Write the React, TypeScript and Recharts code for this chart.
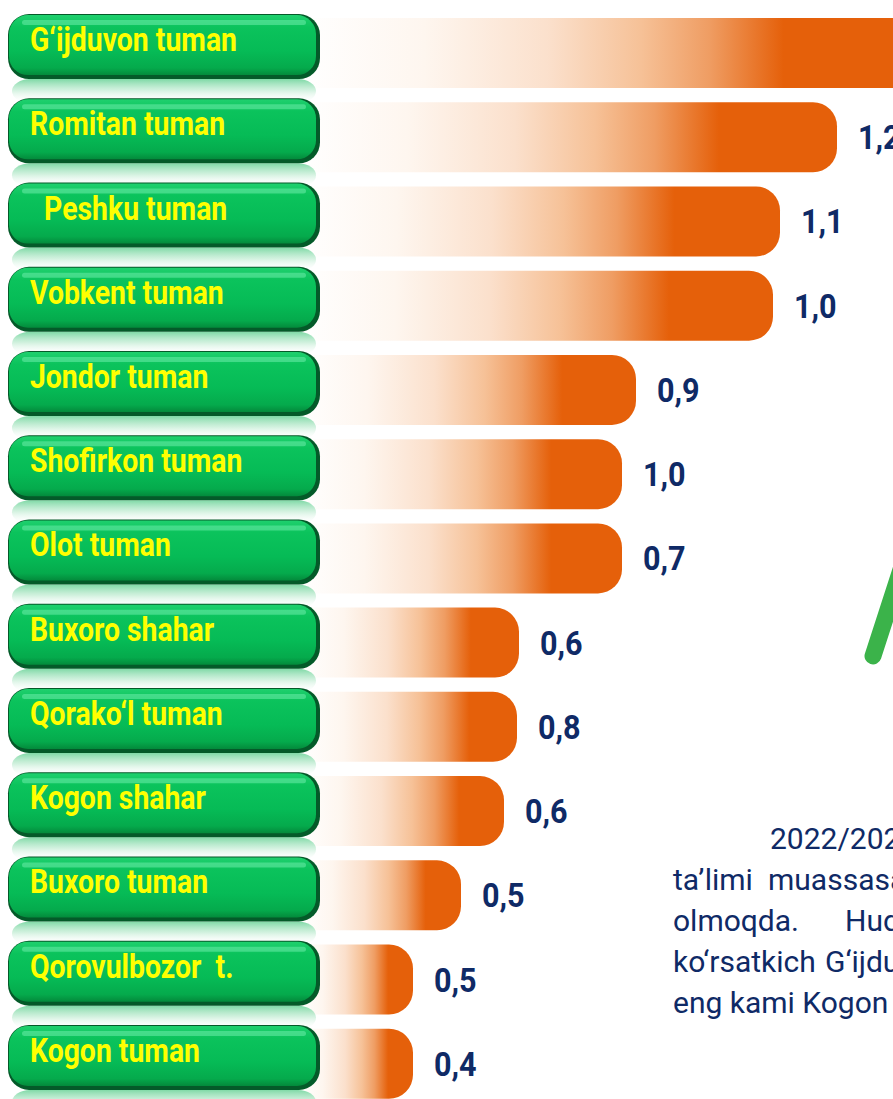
import React from "react";
import { BarChart, Bar, XAxis, YAxis, LabelList } from "recharts";

// district names, top to bottom
const districts = [
  "G‘ijduvon tuman",
  "Romitan tuman",
  "  Peshku tuman",
  "Vobkent tuman",
  "Jondor tuman",
  "Shofirkon tuman",
  "Olot tuman",
  "Buxoro shahar",
  "Qorako‘l tuman",
  "Kogon shahar",
  "Buxoro tuman",
  "Qorovulbozor  t.",
  "Kogon tuman",
];

// printed value labels
const shareLabels = ["1,3", "1,2", "1,1", "1,0", "0,9", "1,0", "0,7", "0,6", "0,8", "0,6", "0,5", "0,5", "0,4"];

// drawn bar lengths (the infographic's bars are not to the printed values)
const barLengths = [620, 537, 480, 473, 336, 322, 322, 219, 217, 204, 161, 113, 113];

const noteLines = [
  ["2022/2023"],
  ["ta’limi", "muassasa"],
  ["olmoqda.", "Hudud"],
  ["ko‘rsatkich", "G‘ijduvon"],
  ["eng kami Kogon"],
];

const data = districts.map((name, i) => ({ name, length: barLengths[i], label: shareLabels[i] }));

const NAVY = "#0f2a66";
const ORANGE = "#e5600a";

function PillTick(props: any) {
  const { y, payload } = props;
  const top = y - 7 - 32;
  return (
    <g>
      <rect x={12} y={top + 65} width={304} height={24} rx={18} fill="url(#reflectGrad)" />
      <rect x={8} y={top} width={312} height={65} rx={21} fill="#045a29" />
      <rect x={9} y={top + 1} width={307} height={60} rx={19} fill="url(#pillGrad)" />
      <rect x={22} y={top + 6} width={284} height={5} rx={2.5} fill="#74f0b0" opacity={0.5} />
      <text
        x={30}
        y={y - 2}
        fill="#ffff00"
        fontFamily="Roboto, sans-serif"
        fontWeight={700}
        fontSize={33}
        style={{ whiteSpace: "pre" }}
        transform="translate(30 0) scale(0.86 1) translate(-30 0)"
      >
        {payload.value}
      </text>
    </g>
  );
}

function ValueLabel(props: any) {
  const { x, y, width, height, value } = props;
  const tx = x + width + 21;
  const ty = y + height / 2 + 12;
  return (
    <text
      x={tx}
      y={ty}
      fill={NAVY}
      fontFamily="Roboto, sans-serif"
      fontWeight={700}
      fontSize={34}
      transform={`translate(${tx} 0) scale(0.9 1) translate(${-tx} 0)`}
    >
      {value}
    </text>
  );
}

export default function App() {
  return (
    <div style={{ position: "absolute", left: 0, top: 0, width: 893, height: 1099, overflow: "hidden", background: "#fff" }}>
      <BarChart
        width={930}
        height={1110}
        data={data}
        layout="vertical"
        margin={{ top: 11, right: 0, bottom: 4, left: 0 }}
        barSize={70}
      >
        <defs>
          <linearGradient id="barGrad" x1="0" y1="0" x2="1" y2="0">
            <stop offset="0%" stopColor="#ffffff" />
            <stop offset="20%" stopColor="#fef6ef" />
            <stop offset="40%" stopColor="#fbe0cc" />
            <stop offset="55%" stopColor="#f6c197" />
            <stop offset="66%" stopColor="#ef9d63" />
            <stop offset="78%" stopColor={ORANGE} />
            <stop offset="100%" stopColor={ORANGE} />
          </linearGradient>
          <linearGradient id="pillGrad" x1="0" y1="0" x2="0" y2="1">
            <stop offset="0%" stopColor="#1fd06e" />
            <stop offset="20%" stopColor="#0bc35c" />
            <stop offset="60%" stopColor="#06bb56" />
            <stop offset="88%" stopColor="#05aa4c" />
            <stop offset="100%" stopColor="#038a3b" />
          </linearGradient>
          <linearGradient id="reflectGrad" x1="0" y1="0" x2="0" y2="1">
            <stop offset="0%" stopColor="#7fd9a6" stopOpacity={1} />
            <stop offset="45%" stopColor="#bdebd0" stopOpacity={0.7} />
            <stop offset="100%" stopColor="#ffffff" stopOpacity={0} />
          </linearGradient>
        </defs>
        <XAxis type="number" domain={[0, 630]} hide />
        <Bar dataKey="length" fill="url(#barGrad)" radius={[0, 24, 24, 0]} isAnimationActive={false}>
          <LabelList dataKey="label" content={<ValueLabel />} />
        </Bar>
        <YAxis
          type="category"
          dataKey="name"
          width={300}
          axisLine={false}
          tickLine={false}
          interval={0}
          tick={<PillTick />}
        />
      </BarChart>
      <svg width={893} height={1099} style={{ position: "absolute", left: 0, top: 0, pointerEvents: "none" }}>
        <line x1={873} y1={656} x2={908} y2={548} stroke="#3bb34a" strokeWidth={17} strokeLinecap="round" />
        {noteLines.map((words, i) => {
          const baseline = 849 + i * 41;
          const xs = i === 0 ? [770] : words.length === 2 ? [673, [0, 768, 845, 825][i]] : [673];
          return words.map((w, j) => (
            <text
              key={`${i}-${j}`}
              x={xs[j]}
              y={baseline}
              fill={NAVY}
              fontFamily="Roboto, sans-serif"
              fontSize={30}
            >
              {w}
            </text>
          ));
        })}
      </svg>
    </div>
  );
}
